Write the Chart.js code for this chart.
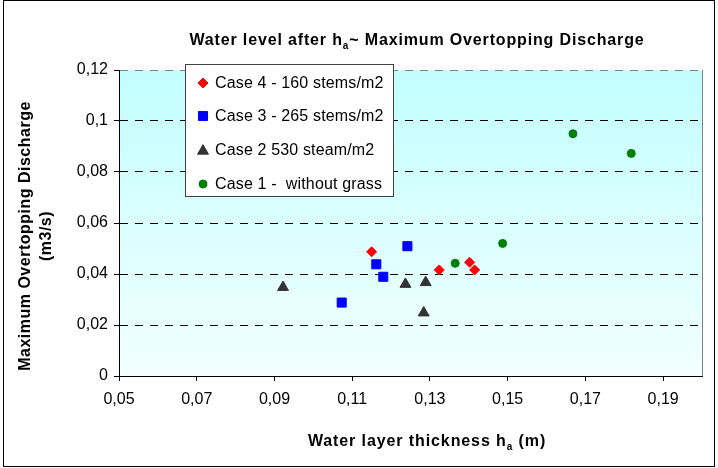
<!DOCTYPE html>
<html>
<head>
<meta charset="utf-8">
<script src="https://cdn.jsdelivr.net/npm/chart.js@4/dist/chart.umd.min.js"></script>
<style>
  html, body { margin: 0; padding: 0; background: #fff; }
  #wrap { width: 718px; height: 468px; }
</style>
</head>
<body>
<div id="wrap"><canvas id="c" width="718" height="468"></canvas></div>
<script>
// Axis ticks and their printed labels (decimal comma)
const xTicks = [0.05, 0.07, 0.09, 0.11, 0.13, 0.15, 0.17, 0.19];
const xTickLabels = ['0,05', '0,07', '0,09', '0,11', '0,13', '0,15', '0,17', '0,19'];
const yTicks = [0, 0.02, 0.04, 0.06, 0.08, 0.1, 0.12];
const yTickLabels = ['0', '0,02', '0,04', '0,06', '0,08', '0,1', '0,12'];

// Series: water layer thickness h_a (m) vs maximum overtopping discharge (m3/s)
const seriesNames = ['Case 4 - 160 stems/m2', 'Case 3 - 265 stems/m2', 'Case 2 530 steam/m2', 'Case 1 -  without grass'];
const case4 = [
  { x: 0.1150, y: 0.0487 },
  { x: 0.1324, y: 0.0416 },
  { x: 0.1402, y: 0.0446 },
  { x: 0.1415, y: 0.0416 }
];
const case3 = [
  { x: 0.1242, y: 0.0509 },
  { x: 0.1162, y: 0.0438 },
  { x: 0.1180, y: 0.0389 },
  { x: 0.1073, y: 0.0288 }
];
const case2 = [
  { x: 0.0922, y: 0.0348 },
  { x: 0.1237, y: 0.0360 },
  { x: 0.1289, y: 0.0367 },
  { x: 0.1284, y: 0.0248 }
];
const case1 = [
  { x: 0.1365, y: 0.0442 },
  { x: 0.1487, y: 0.0520 },
  { x: 0.1668, y: 0.0950 },
  { x: 0.1818, y: 0.0873 }
];

const FONT = '"Liberation Sans", Arial, Helvetica, sans-serif';

// Draws background, frame, titles and the boxed legend
const decor = {
  id: 'decor',
  beforeDraw(chart) {
    const { ctx, chartArea: a } = chart;
    ctx.save();
    const g = ctx.createLinearGradient(0, a.top, 0, a.bottom);
    g.addColorStop(0, '#c2fefe');
    g.addColorStop(1, '#f2ffff');
    ctx.fillStyle = g;
    ctx.fillRect(a.left, a.top, a.right - a.left, a.bottom - a.top);
    ctx.restore();
  },
  afterDraw(chart) {
    const { ctx, chartArea: a } = chart;
    ctx.save();
    // right edge of plot area
    ctx.strokeStyle = '#808080';
    ctx.lineWidth = 1;
    ctx.beginPath();
    ctx.moveTo(Math.round(a.right) + 0.5, a.top);
    ctx.lineTo(Math.round(a.right) + 0.5, a.bottom);
    ctx.stroke();

    // outer frame
    ctx.strokeStyle = '#000';
    ctx.strokeRect(3.5, 0.5, 711, 466);

    // bold text with a subscript part, centred on cx
    const drawSub = (parts, cx, cy, size, spacing) => {
      const big = 'bold ' + size + 'px ' + FONT;
      const small = 'bold ' + Math.round(size * 0.62) + 'px ' + FONT;
      ctx.letterSpacing = spacing + 'px';
      let w = 0;
      parts.forEach(p => { ctx.font = p.sub ? small : big; w += ctx.measureText(p.t).width; });
      let x = cx - w / 2;
      ctx.textBaseline = 'alphabetic';
      ctx.textAlign = 'left';
      parts.forEach(p => {
        ctx.font = p.sub ? small : big;
        ctx.fillText(p.t, x, p.sub ? cy + 4 : cy);
        x += ctx.measureText(p.t).width;
      });
      ctx.letterSpacing = '0px';
    };
    ctx.fillStyle = '#000';
    drawSub([{ t: 'Water level after h' }, { t: 'a', sub: true }, { t: '~ Maximum Overtopping Discharge' }], 417, 45, 16, 0.85);
    drawSub([{ t: 'Water layer thickness h' }, { t: 'a', sub: true }, { t: ' (m)' }], 427, 446, 16, 0.9);

    // y axis title, two lines rotated
    ctx.save();
    ctx.translate(0, 236);
    ctx.rotate(-Math.PI / 2);
    ctx.font = 'bold 16px ' + FONT;
    ctx.letterSpacing = '0.5px';
    ctx.textAlign = 'center';
    ctx.textBaseline = 'middle';
    ctx.fillText('Maximum Overtopping Discharge', 0, 26);
    ctx.fillText('(m3/s)', 0, 47);
    ctx.restore();

    // legend box
    const lx = 185.5, ly = 64.5, lw = 208, lh = 132;
    ctx.fillStyle = '#fff';
    ctx.fillRect(lx, ly, lw, lh);
    ctx.strokeStyle = '#404040';
    ctx.strokeRect(lx, ly, lw, lh);
    const rows = [83, 116, 150, 184];
    ctx.font = '16px ' + FONT;
    ctx.letterSpacing = '0.15px';
    ctx.textAlign = 'left';
    ctx.textBaseline = 'middle';
    chart.data.datasets.forEach((ds, i) => {
      ctx.fillStyle = ds.backgroundColor;
      ctx.strokeStyle = ds.borderColor;
      ctx.lineWidth = 1;
      Chart.helpers.drawPoint(ctx, { pointStyle: ds.pointStyle, radius: ds.pointRadius, rotation: 0, borderWidth: 1 }, 203, ds.pointStyle === 'triangle' ? rows[i] + 1 : rows[i]);
      ctx.fillStyle = '#000';
      ctx.fillText(ds.label, 215, rows[i] + 1);
    });
    ctx.restore();
  }
};

const makeSet = (label, data, color, style, r) => ({
  label, data,
  backgroundColor: color, borderColor: color, borderWidth: 1,
  pointStyle: style, pointRadius: r, pointHoverRadius: r
});

new Chart(document.getElementById('c'), {
  type: 'scatter',
  data: {
    datasets: [
      makeSet(seriesNames[0], case4, '#ff0000', 'rectRot', 5),
      makeSet(seriesNames[1], case3, '#0000ff', 'rect', 6.4),
      makeSet(seriesNames[2], case2, '#333333', 'triangle', 6.3),
      makeSet(seriesNames[3], case1, '#008000', 'circle', 4)
    ]
  },
  options: {
    responsive: false,
    animation: false,
    devicePixelRatio: 1,
    layout: { padding: { top: 70, right: 16, left: 0, bottom: 0 } },
    plugins: { legend: { display: false }, title: { display: false }, tooltip: { enabled: false } },
    scales: {
      x: {
        type: 'linear',
        min: 0.05, max: 0.20,
        afterBuildTicks: s => { s.ticks = xTicks.map(v => ({ value: v })); },
        afterFit: s => { s.height = 92; },
        ticks: {
          callback: (v, i) => xTickLabels[i],
          font: { family: FONT, size: 16 },
          color: '#000',
          padding: 9,
          maxRotation: 0,
          autoSkip: false
        },
        grid: { drawOnChartArea: false, drawTicks: true, tickLength: 5, tickColor: '#000', color: '#000' },
        border: { display: true, color: '#000', width: 1 }
      },
      y: {
        type: 'linear',
        min: 0, max: 0.12,
        afterBuildTicks: s => { s.ticks = yTicks.map(v => ({ value: v })); },
        afterFit: s => { s.width = 119; },
        ticks: {
          callback: (v, i) => yTickLabels[i],
          font: { family: FONT, size: 16 },
          color: '#000',
          padding: 6,
          autoSkip: false
        },
        grid: {
          drawOnChartArea: true,
          tickLength: 5,
          tickColor: '#000',
          color: c => (c.tick && c.tick.value === 0) ? 'rgba(0,0,0,0)' : (c.tick && c.tick.value >= 0.12 ? '#808080' : '#000'),
          lineWidth: 1
        },
        border: { display: true, color: '#000', width: 1, dash: [8, 7] }
      }
    }
  },
  plugins: [decor]
});
</script>
</body>
</html>
